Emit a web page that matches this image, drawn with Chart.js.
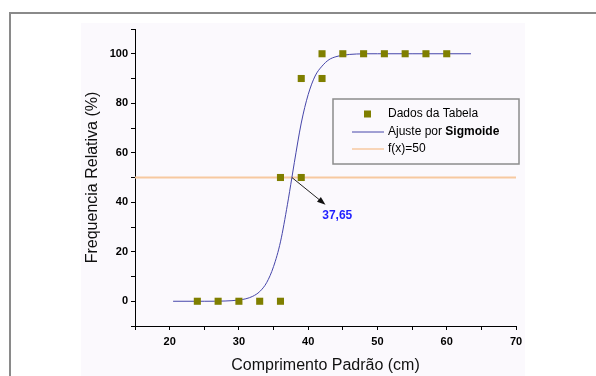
<!DOCTYPE html>
<html>
<head>
<meta charset="utf-8">
<script src="https://cdn.jsdelivr.net/npm/chart.js@4.4.1/dist/chart.umd.min.js"></script>
<style>
  html, body { margin: 0; padding: 0; background: #fff; }
  #wrap { width: 596px; height: 376px; }
</style>
</head>
<body>
<div id="wrap"><canvas id="grafico" width="596" height="376"></canvas></div>
<script>
// pontos da tabela
const comprimentos = [24, 27, 30, 33, 36, 36, 39, 39, 42, 42, 45, 48, 51, 54, 57, 60];
const frequencias = [0, 0, 0, 0, 0, 50, 50, 90, 90, 100, 100, 100, 100, 100, 100, 100];

// curva do ajuste
const ajusteX = [20.5, 25, 28, 30, 31, 32, 33, 34, 35, 36, 37, 37.65, 38, 39, 40, 41, 42, 43, 44, 45, 47, 50, 55, 63.5];
const ajusteY = [0, 0, 0.1, 0.5, 1, 2, 3.9, 7.5, 14, 24, 39, 50, 56, 72, 83.5, 91, 95, 97.6, 98.8, 99.4, 99.9, 100, 100, 100];

// reta f(x)=50
const retaX = [15, 70];
const retaY = [50, 50];

// anotação
const setaDe = [37.65, 50];
const setaAte = [42.5, 39];
const rotuloPos = [44.2, 34.6];
const rotuloTexto = '37,65';

const legendaTextos = ['Dados da Tabela', 'Ajuste por ', 'f(x)=50'];

const toPoints = (xs, ys) => xs.map((x, i) => ({ x: x, y: ys[i] }));

const fonte = 'Arial, "Liberation Sans", sans-serif';

const decoracao = {
    id: 'decoracao',
    beforeDraw(chart) {
        const ctx = chart.ctx;
        ctx.save();
        // moldura externa
        ctx.strokeStyle = '#8a8a8a';
        ctx.lineWidth = 2;
        ctx.beginPath();
        ctx.moveTo(10, 376);
        ctx.lineTo(10, 13);
        ctx.lineTo(596, 13);
        ctx.stroke();
        // painel
        ctx.fillStyle = '#fbf9fd';
        ctx.fillRect(81, 23, 444, 353);
        ctx.restore();
    },
    afterDatasetsDraw(chart) {
        const ctx = chart.ctx;
        const sx = chart.scales.x;
        const sy = chart.scales.y;
        ctx.save();

        // seta
        const x1 = sx.getPixelForValue(setaDe[0]);
        const y1 = sy.getPixelForValue(setaDe[1]);
        const x2 = sx.getPixelForValue(setaAte[0]);
        const y2 = sy.getPixelForValue(setaAte[1]);
        const ang = Math.atan2(y2 - y1, x2 - x1);
        ctx.strokeStyle = '#222';
        ctx.fillStyle = '#111';
        ctx.lineWidth = 1;
        ctx.beginPath();
        ctx.moveTo(x1, y1);
        ctx.lineTo(x2 - 6 * Math.cos(ang), y2 - 6 * Math.sin(ang));
        ctx.stroke();
        ctx.beginPath();
        ctx.moveTo(x2, y2);
        ctx.lineTo(x2 - 9 * Math.cos(ang - 0.35), y2 - 9 * Math.sin(ang - 0.35));
        ctx.lineTo(x2 - 9 * Math.cos(ang + 0.35), y2 - 9 * Math.sin(ang + 0.35));
        ctx.closePath();
        ctx.fill();

        ctx.font = 'bold 12px ' + fonte;
        ctx.fillStyle = '#1f1fff';
        ctx.textAlign = 'center';
        ctx.textBaseline = 'middle';
        ctx.fillText(rotuloTexto, sx.getPixelForValue(rotuloPos[0]), sy.getPixelForValue(rotuloPos[1]));

        // legenda
        const bx = 333, by = 99, bw = 186, bh = 65;
        ctx.fillStyle = '#fbf9fd';
        ctx.fillRect(bx, by, bw, bh);
        ctx.strokeStyle = '#8c8c8c';
        ctx.lineWidth = 1.5;
        ctx.strokeRect(bx, by, bw, bh);

        const ds = chart.data.datasets;
        const tx = 388;
        const linhas = [114, 132, 149];
        ctx.textAlign = 'left';
        ctx.textBaseline = 'middle';
        ctx.font = '12px ' + fonte;

        ctx.fillStyle = ds[0].backgroundColor;
        ctx.fillRect(364, linhas[0] - 3.5, 7, 7);
        ctx.fillStyle = '#000';
        ctx.fillText(legendaTextos[0], tx, linhas[0]);

        ctx.strokeStyle = ds[1].borderColor;
        ctx.lineWidth = 1;
        ctx.beginPath();
        ctx.moveTo(352, linhas[1]);
        ctx.lineTo(384, linhas[1]);
        ctx.stroke();
        ctx.fillStyle = '#000';
        ctx.fillText(legendaTextos[1], tx, linhas[1]);
        const w = ctx.measureText(legendaTextos[1]).width;
        ctx.font = 'bold 12px ' + fonte;
        ctx.fillText('Sigmoide', tx + w, linhas[1]);

        ctx.font = '12px ' + fonte;
        ctx.strokeStyle = ds[2].borderColor;
        ctx.lineWidth = 1.5;
        ctx.beginPath();
        ctx.moveTo(352, linhas[2]);
        ctx.lineTo(384, linhas[2]);
        ctx.stroke();
        ctx.fillStyle = '#000';
        ctx.fillText(legendaTextos[2], tx, linhas[2]);

        ctx.restore();
    }
};

const canvas = document.getElementById('grafico');
const context = canvas.getContext('2d');

const grafico = new Chart(context, {
    type: 'scatter',
    data: {
        datasets: [
            {
                label: 'Dados da Tabela',
                data: toPoints(comprimentos, frequencias),
                pointStyle: 'rect',
                pointRadius: 5,
                borderWidth: 0,
                backgroundColor: '#7f7f00',
                borderColor: '#7f7f00',
                order: 0
            },
            {
                label: 'Ajuste por Sigmoide',
                data: toPoints(ajusteX, ajusteY),
                showLine: true,
                pointRadius: 0,
                borderColor: '#4646aa',
                borderWidth: 1,
                cubicInterpolationMode: 'monotone',
                order: 1
            },
            {
                label: 'f(x)=50',
                data: toPoints(retaX, retaY),
                showLine: true,
                pointRadius: 0,
                borderColor: '#f7c9a0',
                borderWidth: 2,
                order: 2
            }
        ]
    },
    options: {
        responsive: false,
        animation: false,
        layout: { padding: { left: 0, top: 29, right: 80, bottom: 0 } },
        plugins: {
            legend: { display: false },
            tooltip: { enabled: false }
        },
        scales: {
            x: {
                type: 'linear',
                min: 15,
                max: 70,
                grid: { display: true, drawOnChartArea: false, drawTicks: true, tickLength: 4, color: '#000' },
                border: { display: true, color: '#000', width: 1 },
                ticks: {
                    stepSize: 5,
                    autoSkip: false,
                    maxRotation: 0,
                    padding: 5,
                    color: '#000',
                    font: { family: fonte, size: 11, weight: 'bold' },
                    callback: v => (v % 10 === 0 && v >= 20) ? v : ''
                },
                title: {
                    display: true,
                    text: 'Comprimento Padrão (cm)',
                    color: '#111',
                    font: { family: fonte, size: 16 },
                    padding: { top: 0, bottom: 1 }
                },
                afterFit: scale => { scale.height = 50; }
            },
            y: {
                type: 'linear',
                min: -10,
                max: 110,
                grid: { display: true, drawOnChartArea: false, drawTicks: true, tickLength: 4, color: '#000' },
                border: { display: true, color: '#000', width: 1 },
                ticks: {
                    stepSize: 10,
                    autoSkip: false,
                    padding: 3,
                    color: '#000',
                    font: { family: fonte, size: 11, weight: 'bold' },
                    callback: v => (v % 20 === 0 && v >= 0 && v <= 100) ? v : ''
                },
                title: {
                    display: true,
                    text: 'Frequencia Relativa (%)',
                    color: '#111',
                    font: { family: fonte, size: 16 },
                    padding: { top: 83, bottom: 0 }
                },
                afterFit: scale => { scale.width = 135; }
            }
        }
    },
    plugins: [decoracao]
});
</script>
</body>
</html>
